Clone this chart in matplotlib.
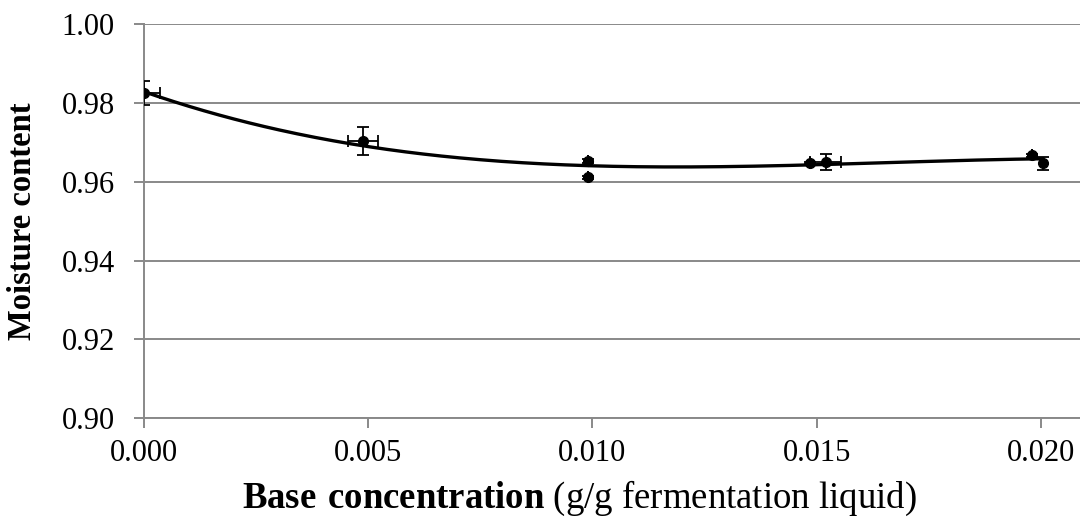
import numpy as np
import matplotlib
matplotlib.use("Agg")
import matplotlib.pyplot as plt

plt.rcParams["font.family"] = ["Liberation Serif", "DejaVu Serif"]
plt.rcParams["mathtext.fontset"] = "custom"
plt.rcParams["mathtext.rm"] = "Liberation Serif"
plt.rcParams["mathtext.bf"] = "Liberation Serif:bold"

# Replicate measurements: base concentration vs. moisture content
base_conc = [0.0, 0.00488, 0.0099, 0.0099, 0.01485, 0.0152, 0.01979, 0.02004]
moisture = [0.9826, 0.9704, 0.9653, 0.9612, 0.9648, 0.9650, 0.9668, 0.9647]
moisture_err = [0.0030, 0.0035, 0.0004, 0.0004, 0.0003, 0.0020, 0.0004, 0.0017]
conc_err = [0.00036, 0.00034, 0.0, 0.0, 0.0, 0.00035, 0.0, 0.0]

x_ticks = [0.000, 0.005, 0.010, 0.015, 0.020]
y_ticks = [0.90, 0.92, 0.94, 0.96, 0.98, 1.00]

fig = plt.figure(figsize=(10.8, 5.2), dpi=100)
ax = fig.add_axes([0.1333, 0.196, 0.8667, 0.757])

grid_col = "#898989"
for yv in y_ticks:
    ax.axhline(yv, color=grid_col, lw=1.4, zorder=1)

# cubic trend line over the measured range
coef = np.polyfit(base_conc, moisture, 3)
xs = np.linspace(min(base_conc), max(base_conc), 300)
ax.plot(xs, np.polyval(coef, xs), color="black", lw=2.4, zorder=3)

ax.errorbar(base_conc, moisture, yerr=moisture_err, xerr=conc_err,
            fmt="o", color="black", ms=7, ecolor="black", elinewidth=1.3,
            capsize=4.5, capthick=1.3, zorder=4)

ax.set_xlim(0, 0.02087)
ax.set_ylim(0.90, 1.00)
ax.set_xticks(x_ticks)
ax.set_xticklabels([f"{v:.3f}" for v in x_ticks])
ax.set_yticks(y_ticks)
ax.set_yticklabels([f"{v:.2f}" for v in y_ticks])

for s in ["top", "right"]:
    ax.spines[s].set_visible(False)
for s in ["left", "bottom"]:
    ax.spines[s].set_color(grid_col)
    ax.spines[s].set_linewidth(1.4)

ax.tick_params(axis="both", direction="out", length=7, width=1.4,
               color=grid_col, labelsize=22)
ax.tick_params(axis="y", pad=14)
ax.tick_params(axis="x", pad=8)

ax.set_ylabel("Moisture content", fontsize=23.5, fontweight="bold", labelpad=17)
ax.set_xlabel(r"$\mathbf{Base\ concentration}$ (g/g fermentation liquid)",
              fontsize=26.5)
ax.xaxis.set_label_coords(0.465, -0.205)
ax.xaxis.label.set_verticalalignment("center")

fig.savefig("out.png", dpi=100)
